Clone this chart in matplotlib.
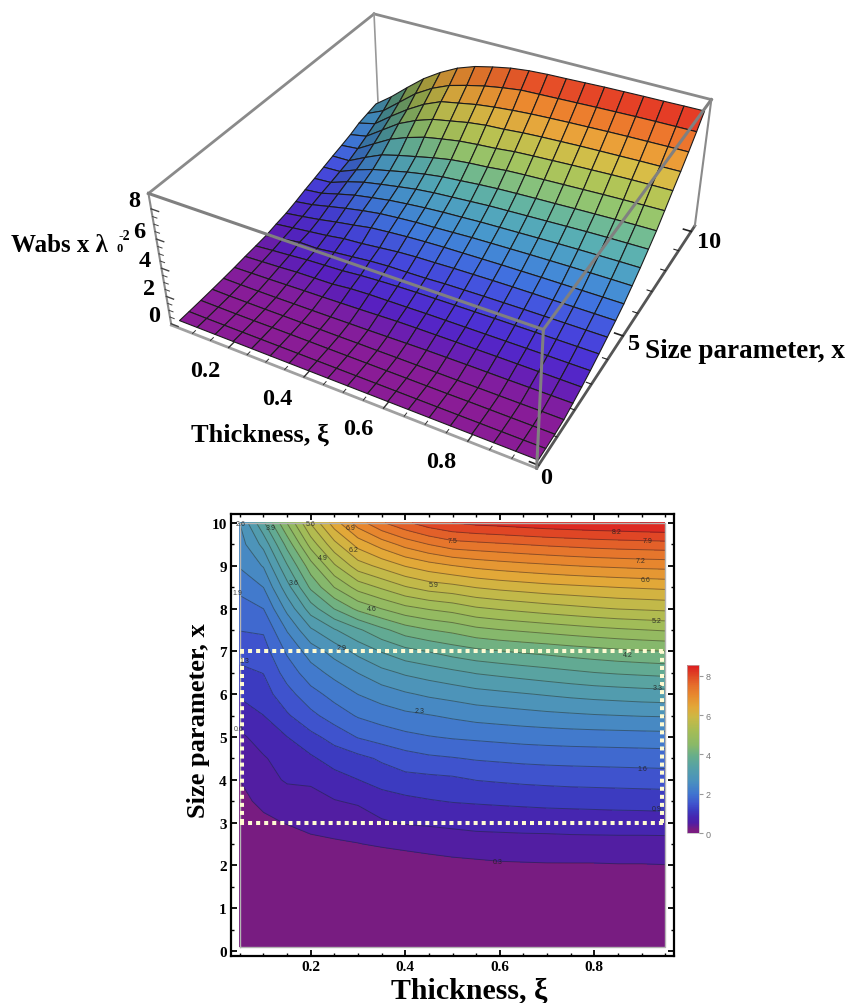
import numpy as np
import matplotlib
matplotlib.use('Agg')
import matplotlib.pyplot as plt
from matplotlib.colors import LinearSegmentedColormap, Normalize
from matplotlib.cm import ScalarMappable
from mpl_toolkits.mplot3d import proj3d

W, H = 847, 1004
plt.rcParams['font.family'] = ['Liberation Serif', 'DejaVu Serif']
plt.rcParams['font.weight'] = 'bold'

thickness = [0.05, 0.10, 0.15, 0.20, 0.25, 0.30, 0.35, 0.40, 0.45, 0.50,
             0.55, 0.60, 0.65, 0.70, 0.75, 0.80, 0.85, 0.90, 0.95]
size_x = [0.1, 0.5, 1.0, 1.5, 2.0, 2.5, 3.0, 3.5, 4.0, 4.5, 5.0,
          5.5, 6.0, 6.5, 7.0, 7.5, 8.0, 8.5, 9.0, 9.5, 10.0]

# one list per thickness
c05 = [0, .01, .03, .06, .10, .15, .22, .27, .33, .48, .60, .80, 1.03, 1.23, 1.44, 1.65, 1.84, 2.05, 2.33, 2.48, 2.63]
c10 = [0, 0, .02, .04, .09, .18, .28, .38, .52, .63, .78, .98, 1.17, 1.32, 1.50, 1.68, 1.97, 2.30, 2.65, 3.05, 3.55]
c15 = [0, 0, .01, .04, .09, .21, .34, .47, .70, .78, .98, 1.27, 1.52, 1.78, 2.02, 2.32, 2.72, 3.15, 3.58, 4.05, 4.60]
c20 = [0, 0, .01, .04, .10, .25, .42, .58, .69, .93, 1.22, 1.55, 1.85, 2.15, 2.45, 2.90, 3.45, 4.00, 4.45, 5.05, 5.60]
c25 = [0, 0, .02, .05, .12, .29, .45, .64, .85, 1.13, 1.43, 1.80, 2.08, 2.40, 2.75, 3.25, 3.95, 4.60, 5.20, 5.80, 6.40]
c30 = [0, 0, .02, .05, .13, .32, .48, .70, .98, 1.22, 1.66, 2.00, 2.30, 2.63, 3.05, 3.55, 4.35, 5.05, 5.75, 6.35, 7.05]
c35 = [0, 0, .02, .06, .15, .36, .62, .82, 1.12, 1.36, 1.78, 2.12, 2.45, 2.85, 3.30, 3.85, 4.60, 5.30, 6.00, 6.70, 7.50]
c40 = [0, 0, .02, .06, .17, .40, .68, .90, 1.20, 1.50, 1.88, 2.22, 2.58, 3.00, 3.50, 4.10, 4.82, 5.55, 6.25, 7.00, 7.80]
c45 = [0, 0, .02, .07, .19, .45, .70, .96, 1.22, 1.58, 1.95, 2.28, 2.68, 3.10, 3.62, 4.25, 4.95, 5.72, 6.42, 7.22, 8.05]
c50 = [0, 0, .02, .07, .22, .50, .72, 1.00, 1.25, 1.62, 2.00, 2.35, 2.75, 3.20, 3.75, 4.35, 5.05, 5.80, 6.55, 7.40, 8.20]
c55 = [0, 0, .02, .08, .25, .52, .75, 1.02, 1.32, 1.67, 2.03, 2.42, 2.83, 3.30, 3.85, 4.50, 5.20, 5.92, 6.65, 7.45, 8.28]
c60 = [0, 0, .02, .08, .28, .53, .76, 1.04, 1.35, 1.70, 2.06, 2.46, 2.88, 3.36, 3.92, 4.58, 5.28, 6.00, 6.72, 7.50, 8.32]
c65 = [0, 0, .02, .08, .29, .54, .77, 1.06, 1.38, 1.73, 2.09, 2.50, 2.93, 3.42, 3.98, 4.64, 5.35, 6.06, 6.78, 7.55, 8.37]
c70 = [0, 0, .02, .08, .30, .54, .78, 1.08, 1.40, 1.75, 2.11, 2.54, 2.98, 3.48, 4.03, 4.70, 5.42, 6.12, 6.83, 7.60, 8.42]
c75 = [0, 0, .03, .09, .30, .55, .79, 1.09, 1.42, 1.76, 2.13, 2.57, 3.03, 3.54, 4.09, 4.76, 5.48, 6.16, 6.88, 7.64, 8.45]
c80 = [0, 0, .03, .09, .30, .55, .80, 1.10, 1.43, 1.77, 2.14, 2.60, 3.07, 3.60, 4.14, 4.82, 5.54, 6.20, 6.92, 7.68, 8.48]
c85 = [0, 0, .03, .09, .31, .55, .81, 1.11, 1.44, 1.78, 2.15, 2.62, 3.10, 3.64, 4.19, 4.87, 5.59, 6.24, 6.95, 7.71, 8.50]
c90 = [0, 0, .03, .10, .31, .55, .81, 1.12, 1.45, 1.79, 2.16, 2.64, 3.13, 3.67, 4.23, 4.91, 5.62, 6.27, 6.98, 7.73, 8.53]
c95 = [0, .01, .03, .10, .32, .55, .82, 1.13, 1.46, 1.80, 2.17, 2.65, 3.15, 3.70, 4.26, 4.95, 5.65, 6.30, 7.00, 7.75, 8.55]

contour_labels = ['2.6', '3.9', '5.6', '6.9', '7.5', '8.2', '7.9', '7.2', '6.6', '5.2', '4.2', '3.3',
                  '1.6', '0.9', '0.3', '5.9', '4.6', '3.6', '4.9', '6.2', '2.9', '2.3', '1.9', '1.3', '0.6']
label_xi = [.052, .116, .20, .285, .50, .848, .912, .897, .908, .933, .87, .935,
            .901, .933, .596, .46, .33, .163, .226, .29, .265, .43, .045, .06, .048]
label_x = [9.98, 9.9, 9.98, 9.9, 9.58, 9.79, 9.58, 9.13, 8.67, 7.73, 6.92, 6.15,
           4.27, 3.32, 2.08, 8.57, 8.0, 8.6, 9.2, 9.39, 7.1, 5.63, 8.38, 6.78, 5.2]

# white dotted window on the contour map
win_xi = [.054, .9435]
win_x = [3, 7]

Z = np.column_stack([c05, c10, c15, c20, c25, c30, c35, c40, c45, c50,
                     c55, c60, c65, c70, c75, c80, c85, c90, c95])
XI, XX = np.meshgrid(thickness, size_x)

zmax = 8.55
nodes = [(0, '#7A1C82'), (.16, '#781C81'), (.5, '#4E1EA5'), (.8, '#4626B0'), (1.15, '#3C3CC0'),
         (1.5, '#3F55CE'), (2, '#4075CF'), (2.6, '#4A90BF'), (3.3, '#55A0A8'), (3.9, '#66AD8C'),
         (4.5, '#8AB968'), (5.2, '#A5BC55'), (5.9, '#CBB845'), (6.4, '#E2A838'), (7, '#E78A2F'),
         (7.5, '#E6702B'), (8, '#E04A26'), (8.55, '#DC1C20')]
cmap = LinearSegmentedColormap.from_list('rb', [(v / zmax, c) for v, c in nodes])
norm = Normalize(0, zmax)

# the lit surface is brighter than the flat map
nodes3d = [(0, '#8A1C96'), (.25, '#7C1EA4'), (.5, '#5A1FC0'), (1, '#4A35D8'), (1.5, '#4550E0'),
           (2, '#4078E0'), (2.6, '#4898D0'), (3.3, '#58B0B8'), (3.9, '#70BC98'), (4.5, '#96C870'),
           (5.2, '#B4C858'), (5.9, '#D8C048'), (6.4, '#ECA83C'), (7, '#F08C30'), (7.5, '#EE6E2C'),
           (8, '#E84828'), (8.55, '#E22020')]
cmap3d = LinearSegmentedColormap.from_list('rb3', [(v / zmax, c) for v, c in nodes3d])

fig = plt.figure(figsize=(W / 100, H / 100), dpi=100)


def ptext(x, y, s, size=16, **kw):
    # text placed by pixel position in the picture
    kw.setdefault('ha', 'center')
    kw.setdefault('va', 'center')
    return fig.text(x / W, 1 - y / H, s, fontsize=size, **kw)


# 3D surface, view fitted to the box corners of the picture
ax3 = fig.add_axes([.0399, .3797, .9445, .7968], projection='3d')
ax3.patch.set_alpha(0)
ax3.set_axis_off()
ax3.computed_zorder = False
xi_lo, xi_hi = .04, .955
x_lo, x_hi = -.1, 10.3
z_lo, z_hi = -.1, 9.0
ax3.set_xlim(xi_lo, xi_hi)
ax3.set_ylim(x_lo, x_hi)
ax3.set_zlim(z_lo, z_hi)
ax3.set_proj_type('persp', focal_length=.301)
ax3.view_init(36.059, -60.955, .586)
ax3.set_box_aspect((2.503, 2.501, 1), zoom=.711)

back = dict(color='#8a8a8a', lw=2, zorder=1)
front = dict(color='#808080', lw=2.2, zorder=5)
ax3.plot([xi_lo, xi_lo], [x_lo, x_hi], [z_hi, z_hi], **back)
ax3.plot([xi_lo, xi_hi], [x_hi, x_hi], [z_hi, z_hi], **back)
ax3.plot([xi_lo, xi_lo], [x_hi, x_hi], [z_lo, z_hi], color='#999999', lw=1.2, zorder=1)
fc = cmap3d(norm(0.25 * (Z[:-1, :-1] + Z[1:, :-1] + Z[:-1, 1:] + Z[1:, 1:])))
# steep faces towards thin shells get a bit darker
slope = np.clip(0.5 * (Z[:-1, 1:] + Z[1:, 1:] - Z[:-1, :-1] - Z[1:, :-1]) / .05, 0, None)
fc[..., :3] *= (1 - .014 * slope)[..., None]
ax3.plot_surface(XI, XX, Z, facecolors=fc, shade=False, rstride=1, cstride=1,
                 edgecolor='#1c1c1c', linewidth=.8, zorder=3)
ax3.plot([xi_lo, xi_hi], [x_lo, x_lo], [z_hi, z_hi], **front)
ax3.plot([xi_hi, xi_hi], [x_lo, x_hi], [z_hi, z_hi], **front)
ax3.plot([xi_hi, xi_hi], [x_lo, x_lo], [z_lo, z_hi], **front)
ax3.plot([xi_lo, xi_lo], [x_lo, x_lo], [z_lo, z_hi], color='#8a8a8a', lw=1.5, zorder=2)
ax3.plot([xi_lo, xi_hi], [x_lo, x_lo], [z_lo, z_lo], color='#a0a0a0', lw=2, zorder=2)
ax3.plot([xi_hi, xi_hi], [x_lo, x_hi], [z_lo, z_lo], color='#555555', lw=2, zorder=2)
ax3.plot([xi_hi, xi_hi], [x_hi, x_hi], [z_lo, z_hi], color='#8a8a8a', lw=1.5, zorder=5)

M3 = ax3.get_proj()


def tick_label(xi, x, z, s, dx, dy):
    px, py, _ = proj3d.proj_transform(xi, x, z, M3)
    ax3.annotate(s, (px, py), xytext=(dx, dy), textcoords='offset pixels', ha='center', va='center',
                 fontsize=17.5, annotation_clip=False)


for v in np.arange(.1, .95, .05):
    major = abs(v / .2 - round(v / .2)) < 1e-6
    ax3.plot([v, v], [x_lo, x_lo + (.22 if major else .12)], [z_lo, z_lo], color='#333333', lw=1 if major else .7, zorder=2)
for v in np.arange(0, 11, 1):
    major = v % 5 == 0
    ax3.plot([xi_hi, xi_hi - (.02 if major else .012)], [v, v], [z_lo, z_lo], color='#222222', lw=1.2 if major else .8, zorder=2)
for v in np.arange(0, 8.5, .5):
    major = v % 2 == 0
    ax3.plot([xi_lo, xi_lo + (.02 if major else .012)], [x_lo, x_lo], [v, v], color='#444444', lw=1 if major else .7, zorder=2)

for v, dx, dy in zip([.2, .4, .6, .8], [-23, -27, -25, -27], [-23, -22, -20, -20]):
    tick_label(v, x_lo, z_lo, '%.1f' % v, dx, dy)
tick_label(xi_hi, 0, z_lo, '0', 8, -12)
tick_label(xi_hi, 5, z_lo, '5', 11, -8)
tick_label(xi_hi, 10, z_lo, '10', 18, -10)
for v in [0, 2, 4, 6, 8]:
    tick_label(xi_lo, x_lo, v, str(v), -17, 8)

ptext(260, 435, 'Thickness, ξ', 19)
ptext(745, 352, 'Size parameter, x', 19.5)
ptext(11, 245, 'Wabs x λ', 18, ha='left')
ptext(120, 249, '0', 9)
ptext(124, 236, '-2', 10)

# contour panel
ax = fig.add_axes([231 / W, 1 - 957 / H, (674 - 231) / W, (957 - 515) / H])
levels = np.arange(0, 8.9, .328)
ax.contourf(XI, XX, Z, levels=levels, cmap=cmap, norm=norm)
ax.contour(XI, XX, Z, levels=levels[1:], colors='#202020', linewidths=.7, alpha=.45)
ax.plot([thickness[0], thickness[-1], thickness[-1], thickness[0], thickness[0]],
        [size_x[0], size_x[0], size_x[-1], size_x[-1], size_x[0]], color='#b4b4b4', lw=1)
for s, a, b in zip(contour_labels, label_xi, label_x):
    ax.text(a, b, s, fontsize=5, family='Liberation Sans', weight='normal', color='#222222',
            alpha=.85, ha='center', va='center', clip_on=False)
dots = dict(color='#FFFBD2', lw=2.9, ls=(0, (1, 1.0)), dash_capstyle='butt')
ax.plot([thickness[0], thickness[-1]], [win_x[0], win_x[0]], **dots)
ax.plot([thickness[0], thickness[-1]], [win_x[1], win_x[1]], **dots)
ax.plot([win_xi[0], win_xi[0]], win_x, **dots)
ax.plot([win_xi[1], win_xi[1]], win_x, **dots)
ax.set_xlim(.0313, .9687)
ax.set_ylim(-.117, 10.21)
ax.set_xticks([.2, .4, .6, .8])
ax.set_xticklabels(['0.2', '0.4', '0.6', '0.8'])
ax.set_yticks(range(0, 11))
ax.set_xticks(np.arange(.05, .96, .05), minor=True)
ax.set_yticks(np.arange(0, 10.1, .5), minor=True)
ax.tick_params(which='major', direction='in', top=True, right=True, length=4, width=1.3, labelsize=11, pad=3)
ax.tick_params(which='minor', direction='in', top=True, right=True, length=2, width=1)
for sp in ax.spines.values():
    sp.set_linewidth(1.6)
ptext(469, 991, 'Thickness, ξ', 21.5)
ptext(198, 721, 'Size parameter, x', 19, rotation=90)

# colour bar
cax = fig.add_axes([687 / W, 1 - 834 / H, 12 / W, 168 / H])
cb = fig.colorbar(ScalarMappable(norm=norm, cmap=cmap), cax=cax)
cb.set_ticks([0, 2, 4, 6, 8])
cb.ax.tick_params(length=3, width=.8, color='#999999', labelcolor='#777777', labelsize=6.5, pad=2)
for t in cb.ax.get_yticklabels():
    t.set_family('Liberation Sans')
    t.set_weight('normal')
cb.outline.set_edgecolor('#bbbbbb')
cb.outline.set_linewidth(.5)

fig.savefig('out.png', dpi=100)
